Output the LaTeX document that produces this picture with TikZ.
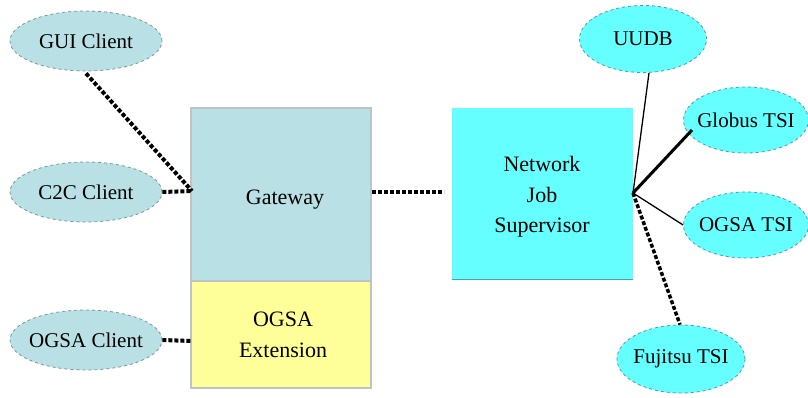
\documentclass[tikz,border=0pt]{standalone}
\usepackage{fontspec}
\setmainfont{Liberation Serif}
\usetikzlibrary{shapes.geometric}
\definecolor{paleblue}{RGB}{185,224,228}
\definecolor{brightcyan}{RGB}{102,255,255}
\definecolor{paleyellow}{RGB}{255,255,153}
\definecolor{rimgray}{RGB}{190,196,198}
\definecolor{rimblue}{RGB}{120,150,155}
\definecolor{rimcyan}{RGB}{70,160,165}
\tikzset{
  ovaltext/.style={font=\fontsize{21}{24}\selectfont, inner sep=0pt},
  client/.style={ellipse, fill=paleblue, draw=rimblue, dashed, line width=0.8pt,
    minimum width=152pt, minimum height=60pt, inner sep=0pt,
    label={[ovaltext]center:#1}},
  tsi/.style={ellipse, fill=brightcyan, draw=rimcyan, dashed, line width=0.8pt,
    minimum width=125pt, minimum height=66pt, inner sep=0pt,
    label={[ovaltext]center:#1}},
  panel/.style={draw=rimgray, line width=1.2pt, inner sep=0pt},
  boxlabel/.style={align=center, font=\fontsize{22}{30.5}\selectfont},
  dotlink/.style={line width=4pt, dash pattern=on 4pt off 2pt, black},
  thinlink/.style={line width=1.3pt, black},
  thicklink/.style={line width=3pt, black}
}
\begin{document}
\begin{tikzpicture}[x=1pt, y=-1pt]
\useasboundingbox (0,0) rectangle (808,397);

% central boxes
\path[fill=paleblue, panel] (191,108) rectangle (371,281);
\path[fill=paleyellow, panel] (191,281) rectangle (371,388);
\path[fill=brightcyan] (452,108) rectangle (633,279);
\draw[rimcyan, line width=1pt] (452,279) -- (633,279);
\node[boxlabel] (gw) at (285,200) {Gateway};
\node[boxlabel] (ext) at (283,335) {OGSA\\Extension};
\node[boxlabel] (njs) at (542,197) {Network\\Job\\Supervisor};

% anchor points on the box edges
\coordinate (gwW) at (192,191);
\coordinate (extW) at (191,341);
\coordinate (gwE) at (372,192);
\coordinate (njsW) at (444,192);
\coordinate (hub) at (633,193);
\coordinate (gend) at (692,130);

% clients
\node[client={GUI Client}] (gui) at (86,41) {};
\node[client={C2C Client}] (c2c) at (86,192) {};
\node[client={OGSA Client}] (ogc) at (86,340) {};

% target system interfaces
\node[tsi={UUDB}, minimum width=127pt, minimum height=67pt] (uudb) at (643,39) {};
\node[tsi={Globus TSI}] (globus) at (746,120) {};
\node[tsi={OGSA TSI}] (ogsatsi) at (746,225) {};
\node[tsi={Fujitsu TSI}, minimum width=128pt, minimum height=68pt] (fujitsu) at (681,359) {};

% client links
\draw[dotlink] (gui.south) ++(0,2) -- (gwW);
\draw[dotlink] (c2c.east) -- (gwW);
\draw[dotlink] (ogc.east) -- (extW);
\draw[dotlink] (gwE) -- (njsW);

% supervisor links
\draw[thinlink] (hub) -- ([xshift=6pt]uudb.south);
\draw[thicklink] (hub) -- (gend);
\draw[thinlink] (hub) -- (ogsatsi.west);
\draw[dotlink, line width=3.5pt] (hub) -- ([xshift=-1pt]fujitsu.north);
\end{tikzpicture}
\end{document}
